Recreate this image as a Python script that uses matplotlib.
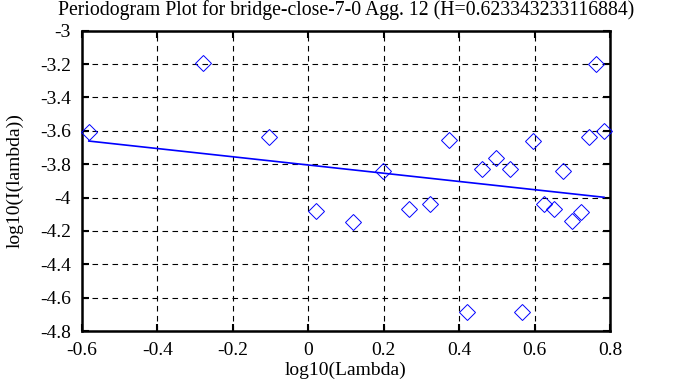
import numpy as np
import matplotlib
matplotlib.use("Agg")
import matplotlib.pyplot as plt

plt.rcParams['font.family'] = ['Liberation Serif', 'DejaVu Serif']

title = "Periodogram Plot for bridge-close-7-0 Agg. 12 (H=0.623343233116884)"
xlabel = "log10(Lambda)"
ylabel = "log10(I(lambda))"

log_lambda = [-0.582, -0.280, -0.103, 0.020, 0.119, 0.199, 0.266, 0.323, 0.374,
              0.420, 0.461, 0.499, 0.534, 0.566, 0.597, 0.625, 0.652, 0.675,
              0.699, 0.723, 0.743, 0.763, 0.784]
log_I = [-3.605, -3.195, -3.635, -4.081, -4.144, -3.838, -4.068, -4.036, -3.656,
         -4.686, -3.828, -3.764, -3.826, -4.686, -3.659, -4.036, -4.070, -3.840,
         -4.141, -4.086, -3.636, -3.198, -3.602]

# fitted line (slope = 1 - 2H)
H = 0.623343233116884
fit_slope = 1 - 2 * H
fit_intercept = -3.805

xticks = [-0.6, -0.4, -0.2, 0, 0.2, 0.4, 0.6, 0.8]
xticklabels = ["-0.6", "-0.4", "-0.2", "0", "0.2", "0.4", "0.6", "0.8"]
yticks = [-4.8, -4.6, -4.4, -4.2, -4, -3.8, -3.6, -3.4, -3.2, -3]
yticklabels = ["-4.8", "-4.6", "-4.4", "-4.2", "-4", "-3.8", "-3.6", "-3.4", "-3.2", "-3"]

x = np.array(log_lambda)
y = np.array(log_I)

fig = plt.figure(figsize=(6.88, 3.87), dpi=100)
ax = fig.add_axes([82/688, 1-331/387, (610-82)/688, (331-30.7)/387])

ax.plot(x, y, linestyle='none', marker='D', markersize=8.5, markerfacecolor='none',
        markeredgecolor='#0000ff', markeredgewidth=0.7, zorder=3, clip_on=False)
xf = np.array([x.min(), x.max()])
ax.plot(xf, fit_slope*xf + fit_intercept, color='#0000ff', linewidth=1.2, zorder=3)

ax.set_xlim(-0.6, 0.8)
ax.set_ylim(-4.8, -3)
ax.set_xticks(xticks)
ax.set_xticklabels(xticklabels)
ax.set_yticks(yticks)
ax.set_yticklabels(yticklabels)
ax.grid(True, color='black', linestyle=(0, (5, 4)), linewidth=0.8)
ax.tick_params(direction='in', length=5, width=1.5, top=True, right=True,
               labelsize=14)
ax.tick_params(axis='x', pad=8)
ax.tick_params(axis='y', pad=8)
for s in ax.spines.values():
    s.set_linewidth(1.8)

ax.set_title(title, fontsize=14.2, pad=11)
ax.set_xlabel(xlabel, fontsize=14, labelpad=2)
ax.set_ylabel(ylabel, fontsize=14, labelpad=12)

fig.savefig("out.png", dpi=100)
